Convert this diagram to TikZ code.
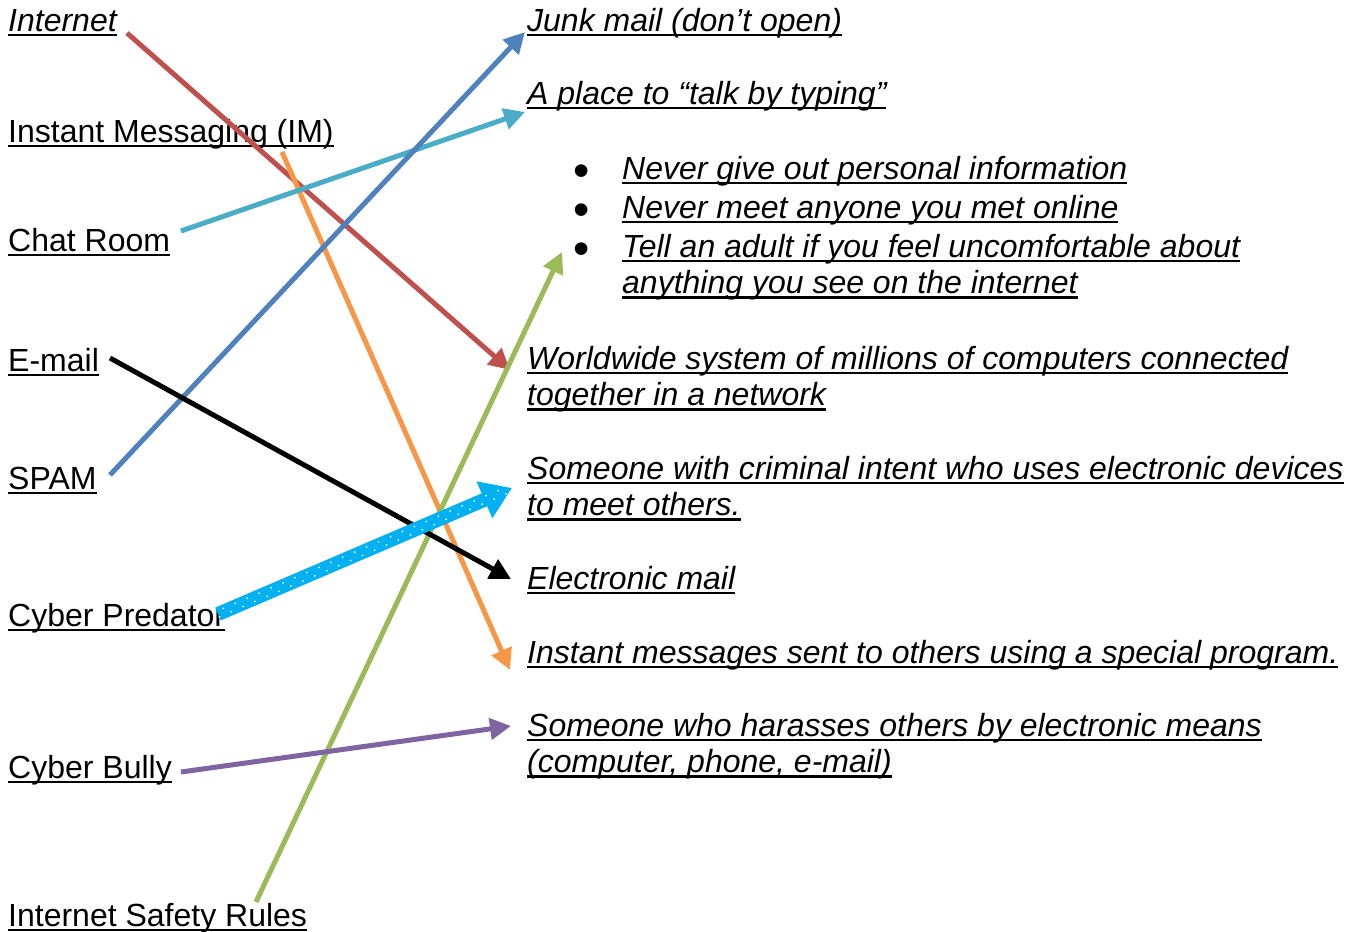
\documentclass[tikz,border=0pt]{standalone}
\usepackage{fontspec}
\setmainfont{Liberation Sans}
\usetikzlibrary{arrows.meta}

\definecolor{netred}{HTML}{C0504D}
\definecolor{imorange}{HTML}{F79646}
\definecolor{chatteal}{HTML}{4BACC6}
\definecolor{spamblue}{HTML}{4F81BD}
\definecolor{predcyan}{HTML}{00B0F0}
\definecolor{bullypurple}{HTML}{8064A2}
\definecolor{rulegreen}{HTML}{9BBB59}

% underlined word or line
\newcommand\ulin[1]{\setbox0=\hbox{#1}\rlap{\rule[-5.2pt]{\wd0}{2.7pt}}\box0}
% big list bullet
\newcommand\bigdot{\upshape\smash{\raisebox{-7pt}{\scalebox{1.45}{•}}}}

\begin{document}
\begin{tikzpicture}[x=1pt,y=-1pt,
	lbl/.style={anchor=base west,inner sep=0pt,font=\fontsize{32}{36.5}\selectfont},
	def/.style={lbl,font=\fontsize{32}{36.5}\selectfont\itshape},
	link/.style={line width=5pt,-{Triangle[length=21pt,width=21pt]}}]
			\useasboundingbox (0,0) rectangle (1361,932);
			
			% terms
			\node [lbl] (internet) at (8,31) {\itshape\ulin{Internet}};
			\node [lbl] (im) at (8,142) {\ulin{Instant Messaging (IM)}};
			\node [lbl] (chat) at (8,251) {\ulin{Chat Room}};
			\node [lbl] (email) at (8,371) {\ulin{E-mail}};
			\node [lbl] (spam) at (8,489) {\ulin{SPAM}};
			\node [lbl] (predator) at (8,626) {\ulin{Cyber Predator}};
			\node [lbl] (bully) at (8,778) {\ulin{Cyber Bully}};
			\node [lbl] (rules) at (8,926) {\ulin{Internet Safety Rules}};
			
			% meanings
			\node [def] (junk) at (527,31) {\ulin{Junk mail (don’t open)}};
			\node [def] (typing) at (527,104) {\ulin{A place to “talk by typing”}};
			\node [def] (safety) at (573,179) {\begin{tabular}[t]{@{}p{49pt}@{}l@{}}
				\bigdot & \ulin{Never give out personal information}\\[2.5pt]
				\bigdot & \ulin{Never meet anyone you met online}\\[2.5pt]
				\bigdot & \ulin{Tell an adult if you feel uncomfortable about}\\
				& \ulin{anything you see on the internet}
			\end{tabular}};
			\node [def] (network) at (527,369) {\begin{tabular}[t]{@{}l@{}}
				\ulin{Worldwide system of millions of computers connected}\\
				\ulin{together in a network}
			\end{tabular}};
			\node [def] (criminal) at (527,479) {\begin{tabular}[t]{@{}l@{}}
				\ulin{Someone with criminal intent who uses electronic devices}\\
				\ulin{to meet others.}
			\end{tabular}};
			\node [def] (elmail) at (527,589) {\ulin{Electronic mail}};
			\node [def] (messages) at (527,663) {\ulin{Instant messages sent to others using a special program.}};
			\node [def] (harass) at (527,736) {\begin{tabular}[t]{@{}l@{}}
				\ulin{Someone who harasses others by electronic means}\\
				\ulin{(computer, phone, e-mail)}
			\end{tabular}};
			
			% matching arrows
			\draw [link,netred] ([shift={(119,2)}]internet.base west) -- ([shift={(-17,1)}]network.base west);
			\draw [link,imorange] ([shift={(274,10)}]im.base west) -- ([shift={(-17,7)}]messages.base west);
			\draw [link,rulegreen] ([shift={(248,-24)}]rules.base west) -- ([shift={(-11,73)}]safety.base west);
			\draw [link,chatteal] ([shift={(173,-20)}]chat.base west) -- ([shift={(-2,8)}]typing.base west);
			\draw [link,spamblue] ([shift={(102,-14)}]spam.base west) -- ([shift={(-2,1)}]junk.base west);
			\draw [link,black] ([shift={(102,-13)}]email.base west) -- ([shift={(-16,-10)}]elmail.base west);
			\coordinate (predout) at ([shift={(210,-12)}]predator.base west);
			\coordinate (predin) at ([shift={(-15,9)}]criminal.base west);
			\draw [predcyan,line width=14pt,-{Triangle[length=30pt,width=38pt]}] (predout) -- (predin);
			\draw [white,line width=2pt,line cap=round,dash pattern=on 0pt off 13pt,transform canvas={shift={(1.2,2.8)}}] (predout) -- (predin);
			\draw [white,line width=2pt,line cap=round,dash pattern=on 0pt off 13pt,dash phase=6pt,transform canvas={shift={(-1.2,-2.8)}}] (predout) -- (predin);
			\draw [link,bullypurple] ([shift={(173,-6)}]bully.base west) -- ([shift={(-16,-10)}]harass.base west);
		\end{tikzpicture}
\end{document}
